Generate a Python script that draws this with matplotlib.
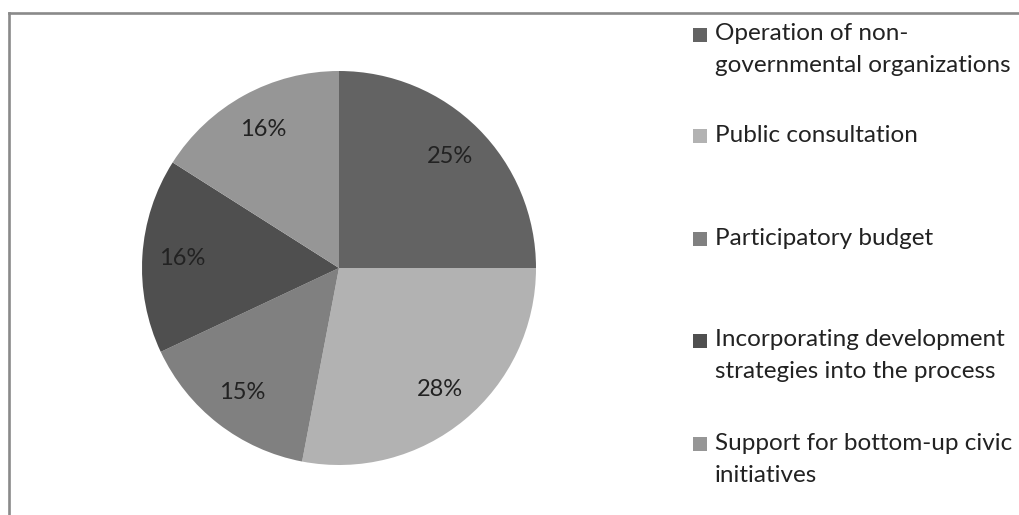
import matplotlib
matplotlib.use("Agg")
import matplotlib.pyplot as plt
from matplotlib.patches import Rectangle
from matplotlib.lines import Line2D

plt.rcParams['font.family'] = ['Lato', 'DejaVu Sans']

# Shares of the participation forms
categories = [
    "Operation of non-\ngovernmental organizations",
    "Public consultation",
    "Participatory budget",
    "Incorporating development\nstrategies into the process",
    "Support for bottom-up civic\ninitiatives",
]
shares = [25, 28, 15, 16, 16]
colors = ["#636363", "#b2b2b2", "#808080", "#4f4f4f", "#969696"]

W, H = 1019, 515
fig = plt.figure(figsize=(W / 100, H / 100), dpi=100)

# pie centre and radius in pixels
cx, cy, r = 339, 268, 197
ax = fig.add_axes([(cx - r) / W, (H - cy - r) / H, 2 * r / W, 2 * r / H])
wedges, texts, autotexts = ax.pie(
    shares, colors=colors, startangle=90, counterclock=False,
    autopct=lambda p: f"{p:.0f}%", pctdistance=0.8,
    textprops=dict(fontsize=17, color="#222222"),
    wedgeprops=dict(linewidth=0),
)
ax.set_xlim(-1, 1)
ax.set_ylim(-1, 1)
ax.set_aspect("equal")

# frame line along top and left
fig.add_artist(Line2D([9 / W, 9 / W], [0, 1 - 13 / H], color="#8a8a8a", lw=1.9))
fig.add_artist(Line2D([9 / W, 1], [1 - 13 / H, 1 - 13 / H], color="#8a8a8a", lw=1.9))

# legend entries, y of first line centre in px
first_line_y = [34, 135, 238, 340, 443]
line_gap = 32
for label, col, y in zip(categories, colors, first_line_y):
    fig.add_artist(Rectangle((693 / W, 1 - (y + 8) / H), 14 / W, 14 / H,
                             facecolor=col, edgecolor="none"))
    for i, line in enumerate(label.split("\n")):
        fig.text(715 / W, 1 - (y + i * line_gap) / H, line, fontsize=17.5,
                 color="#222222", va="center", ha="left")

fig.savefig("out.png", dpi=100)
